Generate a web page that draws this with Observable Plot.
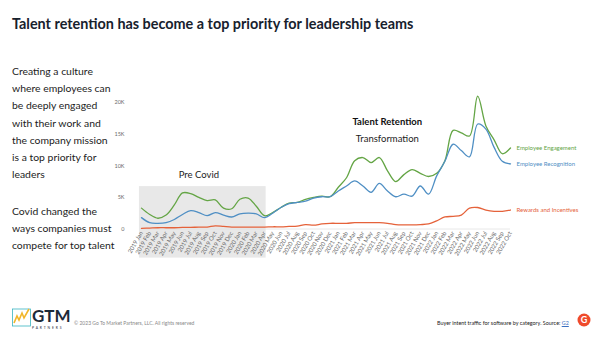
<!DOCTYPE html>
<html><head><meta charset="utf-8">
<script src="https://cdn.jsdelivr.net/npm/d3@7"></script>
<script src="https://cdn.jsdelivr.net/npm/@observablehq/plot@0.6"></script>
<style>
html,body{margin:0;padding:0;background:#fff;}
#page{position:relative;width:600px;height:337px;overflow:hidden;font-family:Lato,"Open Sans",sans-serif;color:#1a1f26;}
#title{position:absolute;left:12px;top:15px;font-weight:700;font-size:14.4px;color:#17212d;white-space:nowrap;}
.para{position:absolute;left:12px;font-size:10.4px;line-height:17.2px;color:#1c1c1c;white-space:nowrap;}
#chart{position:absolute;left:100px;top:80px;}
#logo{position:absolute;left:12px;top:306px;}
#copy{position:absolute;left:74px;top:320px;font-size:5px;color:#888;white-space:nowrap;}
#src{position:absolute;left:437px;top:320px;font-size:5.4px;color:#222;white-space:nowrap;}
#src u{color:#3a6fc0;}
#g2{position:absolute;left:577px;top:313px;}
</style></head>
<body><div id="page">
<div id="title">Talent retention has become a top priority for leadership teams</div>
<div class="para" style="top:63px">Creating a culture<br>where employees can<br>be deeply engaged<br>with their work and<br>the company mission<br>is a top priority for<br>leaders</div>
<div class="para" style="top:203px">Covid changed the<br>ways companies must<br>compete for top talent</div>
<div id="chart"></div>
<svg id="logo" width="62" height="24" viewBox="0 0 62 24">
  <rect x="0.5" y="3" width="18" height="17" fill="none" stroke="#39b3c0" stroke-width="0.8"/>
  <path d="M2 17 L5 10 L7 14 L10 7 L12 12 L17 3" fill="none" stroke="#f2b62b" stroke-width="1.6"/>
  <text x="20" y="16" font-family="Lato,sans-serif" font-weight="700" font-size="17" fill="#1d2a38">GTM</text>
  <text x="20" y="22.5" font-family="Lato,sans-serif" font-size="3.3" letter-spacing="1.9" fill="#1d2a38">PARTNERS</text>
</svg>
<div id="copy">© 2023 Go To Market Partners, LLC. All rights reserved</div>
<div id="src">Buyer intent traffic for software by category. Source: <u>G2</u></div>
<svg id="g2" width="14" height="14" viewBox="0 0 14 14">
  <circle cx="7" cy="7" r="6.5" fill="#ef4a2b"/>
  <text x="7" y="10" text-anchor="middle" font-family="Lato,sans-serif" font-weight="700" font-size="9" fill="#fff">G</text>
</svg>
</div>
<script>
const months = ["2019 Jan","2019 Feb","2019 Mar","2019 Apr","2019 May","2019 Jun","2019 Jul","2019 Aug","2019 Sep","2019 Oct","2019 Nov","2019 Dec",
"2020 Jan","2020 Feb","2020 Mar","2020 Apr","2020 May","2020 Jun","2020 Jul","2020 Aug","2020 Sep","2020 Oct","2020 Nov","2020 Dec",
"2021 Jan","2021 Feb","2021 Mar","2021 Apr","2021 May","2021 Jun","2021 Jul","2021 Aug","2021 Sep","2021 Oct","2021 Nov","2021 Dec",
"2022 Jan","2022 Feb","2022 Mar","2022 Apr","2022 May","2022 Jun","2022 Jul","2022 Aug","2022 Sep","2022 Oct"];

const engagement = [3.3,2.3,1.7,2.2,3.8,5.7,5.6,5.0,4.5,4.6,3.3,3.2,
4.7,4.9,3.6,2.1,2.6,3.4,4.1,4.2,4.7,5.0,5.2,5.1,
6.6,8.1,10.8,11.3,10.5,11.3,9.2,7.5,8.6,9.4,8.8,8.3,
8.8,10.8,15.6,15.2,14.7,21.0,16.3,14.1,11.9,12.8];

const recognition = [1.8,1.0,0.9,1.0,1.5,2.3,2.9,2.6,2.1,2.6,2.2,1.9,
2.4,2.5,2.4,1.8,2.5,3.4,4.0,4.2,4.4,4.9,5.1,5.1,
6.0,6.8,7.6,6.8,5.8,7.2,6.0,5.1,5.5,5.2,6.8,5.5,
8.4,10.7,13.4,12.4,11.4,16.6,15.8,12.9,10.7,10.3];

const rewards = [0.1,0.15,0.2,0.2,0.2,0.25,0.25,0.3,0.3,0.5,0.4,0.3,
0.3,0.3,0.3,0.3,0.35,0.35,0.4,0.45,0.7,0.6,0.8,0.9,
0.9,0.9,1.0,1.0,1.0,1.0,0.9,0.7,0.65,0.65,0.7,0.8,
1.3,1.9,2.0,2.2,3.3,3.4,3.0,2.8,2.8,3.0];

const seriesNames = ["Employee Engagement","Employee Recognition","Rewards and Incentives"];
const seriesColors = ["#64a545","#4f8fc4","#e5623a"];
const yTicks = [0,5000,10000,15000,20000];

const preCovid = [{from:"2019 Jan", to:"2020 Apr", low:-4600, high:6700}];
const covidNote = [{month:"2019 Aug", value:8600, text:"Pre Covid"}];
const retentionTitle = [{month:"2021 Jun", value:17000, text:"Talent Retention"}];
const retentionSub = [{month:"2021 Jun", value:14300, text:"Transformation"}];

const allSeries = [engagement, recognition, rewards];
const data = [];
allSeries.forEach((arr, s) => arr.forEach((v, i) => data.push({i, v: v*1000, s: seriesNames[s]})));
const last = allSeries.map((arr, s) => ({i: arr.length-1, v: arr[arr.length-1]*1000, s: seriesNames[s], c: seriesColors[s]}));

const idx = m => months.indexOf(m);

const chart = Plot.plot({
  width: 460, height: 190,
  marginLeft: 41, marginRight: 50, marginTop: 22, marginBottom: 41.5,
  style: {fontFamily: "Lato, 'Open Sans', sans-serif", background: "transparent", overflow: "visible"},
  x: {domain: [0, months.length-1]},
  y: {domain: [0, 20000]},
  marks: [
    Plot.rect(preCovid, {x1: d => idx(d.from)-0.25, x2: d => idx(d.to)+0.2, y1: "low", y2: "high", fill: "#e8e8e8"}),
    Plot.ruleY([0], {stroke: "#e2e2e2", strokeWidth: 0.8}),
    Plot.axisX({ticks: months.map((m,i)=>i), tickFormat: i => months[i], tickRotate: -60, tickSize: 0, tickPadding: 3, fontSize: 6, fill: "#6a6a6a", label: null}),
    Plot.axisY({ticks: yTicks, tickFormat: d => d === 0 ? "0" : (d/1000)+"K", tickSize: 0, tickPadding: 17, fontSize: 5.5, fill: "#6a6a6a", label: null}),
    ...seriesNames.map((name, s) => Plot.line(data.filter(d => d.s === name), {x: "i", y: "v", stroke: seriesColors[s], strokeWidth: 1.3, curve: "catmull-rom"})),
    Plot.text(last, {x: "i", y: "v", text: "s", fill: d => d.c, dx: 6, textAnchor: "start", fontSize: 6}),
    Plot.text(covidNote, {x: d => idx(d.month), y: "value", text: "text", fontSize: 9.5, fill: "#1c1c1c"}),
    Plot.text(retentionTitle, {x: d => idx(d.month), y: "value", text: "text", dx: 8, fontWeight: 700, fontSize: 9.5, fill: "#111"}),
    Plot.text(retentionSub, {x: d => idx(d.month), y: "value", text: "text", dx: 8, fontSize: 9.5, fill: "#1c1c1c"})
  ]
});
document.getElementById("chart").appendChild(chart);
</script>
</body></html>
